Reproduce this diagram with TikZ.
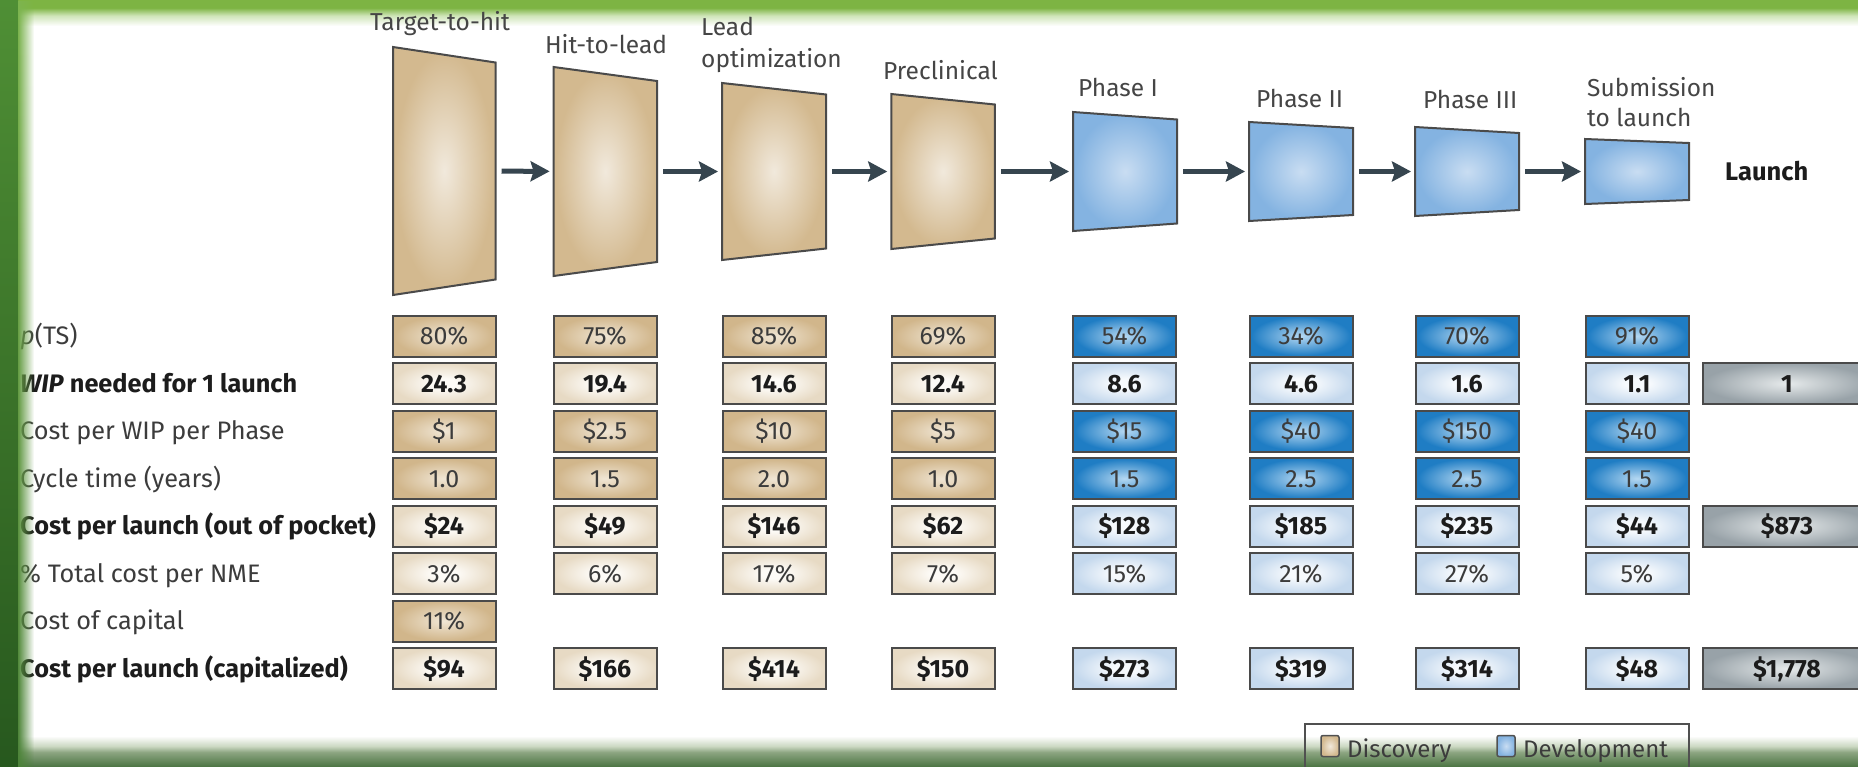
\documentclass[tikz,border=0pt]{standalone}
\usepackage{fontspec}
\setmainfont{Fira Sans}
\usetikzlibrary{arrows.meta,fadings}

\definecolor{bordc}{HTML}{4A4A4A}
\definecolor{arrc}{HTML}{36454F}
\definecolor{txtc}{HTML}{3C3C3C}
\definecolor{txtb}{HTML}{1C1C1C}
\definecolor{labc}{HTML}{454545}
\definecolor{legc}{HTML}{505050}

\definecolor{tTanA}{HTML}{F1E9DC}\definecolor{tTanB}{HTML}{D3B98F}
\definecolor{tBluA}{HTML}{C9DDF2}\definecolor{tBluB}{HTML}{84B3E1}
\definecolor{bTanDA}{HTML}{F0E6D5}\definecolor{bTanDB}{HTML}{D1B68B}
\definecolor{bTanLA}{HTML}{FDFBF7}\definecolor{bTanLB}{HTML}{E7DAC4}
\definecolor{bBluDA}{HTML}{B5D8F2}\definecolor{bBluDB}{HTML}{1F7DC4}
\definecolor{bBluLA}{HTML}{F7FAFD}\definecolor{bBluLB}{HTML}{C4D8ED}
\definecolor{bGryA}{HTML}{E6EAEB}\definecolor{bGryB}{HTML}{98A2A8}

\definecolor{lgT}{HTML}{4F8F35}\definecolor{lgB}{HTML}{27581E}
\definecolor{lfT}{HTML}{7DB54F}\definecolor{lfB}{HTML}{4C8339}
\definecolor{tg1}{HTML}{7DB443}\definecolor{tg2}{HTML}{CFE5B8}
\definecolor{bg1}{HTML}{CBD8C2}\definecolor{bg2}{HTML}{8CA581}\definecolor{bg3}{HTML}{4F7746}

\pgfdeclareradialshading{trapTan}{\pgfpointorigin}{color(0bp)=(tTanA); color(24bp)=(tTanB); color(50bp)=(tTanB)}
\pgfdeclareradialshading{trapBlue}{\pgfpointorigin}{color(0bp)=(tBluA); color(24bp)=(tBluB); color(50bp)=(tBluB)}
\pgfdeclareradialshading{boxTanD}{\pgfpointorigin}{color(0bp)=(bTanDA); color(24bp)=(bTanDB); color(50bp)=(bTanDB)}
\pgfdeclareradialshading{boxTanL}{\pgfpointorigin}{color(0bp)=(bTanLA); color(6bp)=(bTanLA); color(25bp)=(bTanLB); color(50bp)=(bTanLB)}
\pgfdeclareradialshading{boxBlueD}{\pgfpointorigin}{color(0bp)=(bBluDA); color(24bp)=(bBluDB); color(50bp)=(bBluDB)}
\pgfdeclareradialshading{boxBlueL}{\pgfpointorigin}{color(0bp)=(bBluLA); color(6bp)=(bBluLA); color(25bp)=(bBluLB); color(50bp)=(bBluLB)}
\pgfdeclareradialshading{boxGray}{\pgfpointorigin}{color(0bp)=(bGryA); color(25bp)=(bGryB); color(50bp)=(bGryB)}

\pgfdeclareverticalshading{topband}{100bp}{color(0bp)=(white); color(25bp)=(white); color(45bp)=(tg2); color(60bp)=(tg1); color(100bp)=(tg1)}
\pgfdeclareverticalshading{botband}{100bp}{color(0bp)=(bg3); color(25bp)=(bg3); color(48bp)=(bg2); color(58bp)=(bg1); color(75bp)=(white); color(100bp)=(white)}

\tikzfading[name=fadeR, left color=transparent!0, right color=transparent!100]

\newcommand\cellfont{\fontsize{25}{27}\selectfont}
\newcommand\labfont{\fontsize{25.3}{27}\selectfont}
\newcommand\stagefont{\fontsize{24.5}{26}\selectfont}

\tikzset{
  stagebox/.style={inner sep=0pt, outer sep=0pt, minimum width=104pt},
  traptan/.style={draw=bordc, line width=2pt, shading=trapTan},
  trapblue/.style={draw=bordc, line width=2pt, shading=trapBlue},
  arr/.style={draw=arrc, line width=5pt, -{Stealth[length=19pt,width=20pt,inset=3pt]}, shorten <=6pt, shorten >=4pt},
  cell/.style={draw=bordc, line width=2pt, minimum width=103pt, minimum height=41pt, inner sep=0pt, text height=17pt, text depth=0pt, font=\cellfont},
  rg/.style={text=txtc},
  bd/.style={text=txtb, font=\cellfont\bfseries},
  dtan/.style={cell, shading=boxTanD, rg},
  ltan/.style={cell, shading=boxTanL},
  dblue/.style={cell, shading=boxBlueD, rg},
  lblue/.style={cell, shading=boxBlueL},
  gcell/.style={cell, shading=boxGray, minimum width=168pt},
  stagelab/.style={inner sep=0pt, text=labc, font=\stagefont},
  rowlab/.style={inner sep=0pt, anchor=base west, text=txtc, font=\labfont},
  rowlabb/.style={inner sep=0pt, anchor=base west, text=txtb, font=\labfont\bfseries},
  legsq/.style={draw=legc, line width=1.5pt, minimum width=18pt, minimum height=21pt, inner sep=0pt, rounded corners=2pt},
  legtxt/.style={inner sep=0pt, anchor=base west, text=txtc, font=\fontsize{24}{26}\selectfont}
}

\begin{document}
\begin{tikzpicture}[x=1pt,y=-1pt]
\useasboundingbox (0,0) rectangle (1858,766);
\fill[white] (0,0) rectangle (1858,766);
\shade[shading=topband] (0,0) rectangle (1858,26);
\shade[shading=botband] (0,736) rectangle (1858,766);

% stages
\node[stagebox, minimum width=102.5pt, minimum height=248pt] (s1) at (444.25,171) {};
\node[stagebox, minimum width=103.4pt, minimum height=209pt] (s2) at (605.3,171.5) {};
\node[stagebox, minimum height=177pt] (s3) at (774,171.5) {};
\node[stagebox, minimum width=103.5pt, minimum height=155pt] (s4) at (943,171.5) {};
\node[stagebox, minimum height=119pt] (s5) at (1125,171.5) {};
\node[stagebox, minimum height=99pt] (s6) at (1301,171.5) {};
\node[stagebox, minimum height=89pt] (s7) at (1467,171.5) {};
\node[stagebox, minimum height=65pt] (s8) at (1637,171.5) {};

\path[traptan] (s1.north west) -- ([yshift=-15.5pt]s1.north east) -- ([yshift=15.5pt]s1.south east) -- (s1.south west) -- cycle;
\path[traptan] (s2.north west) -- ([yshift=-14pt]s2.north east) -- ([yshift=14pt]s2.south east) -- (s2.south west) -- cycle;
\path[traptan] (s3.north west) -- ([yshift=-11.5pt]s3.north east) -- ([yshift=11.5pt]s3.south east) -- (s3.south west) -- cycle;
\path[traptan] (s4.north west) -- ([yshift=-10.5pt]s4.north east) -- ([yshift=10.5pt]s4.south east) -- (s4.south west) -- cycle;
\path[trapblue] (s5.north west) -- ([yshift=-7.5pt]s5.north east) -- ([yshift=7.5pt]s5.south east) -- (s5.south west) -- cycle;
\path[trapblue] (s6.north west) -- ([yshift=-6pt]s6.north east) -- ([yshift=6pt]s6.south east) -- (s6.south west) -- cycle;
\path[trapblue] (s7.north west) -- ([yshift=-6pt]s7.north east) -- ([yshift=6pt]s7.south east) -- (s7.south west) -- cycle;
\path[trapblue] (s8.north west) -- ([yshift=-4pt]s8.north east) -- ([yshift=4pt]s8.south east) -- (s8.south west) -- cycle;

\foreach \a/\b in {s1/s2,s2/s3,s3/s4,s4/s5,s5/s6,s6/s7,s7/s8}
  \draw[arr] (\a) -- (\b);

% stage labels
\node[stagelab, anchor=base] (t1) at (440,30) {Target-to-hit};
\node[stagelab, anchor=base] (t2) at (606,53) {Hit-to-lead};
\node[stagelab, anchor=base west] (t3a) at (701,35) {Lead};
\node[stagelab, anchor=base west] (t3b) at (701,67) {optimization};
\node[stagelab, anchor=base west] (t4) at (883,79) {Preclinical};
\node[stagelab, anchor=base west] (t5) at (1078,96) {Phase I};
\node[stagelab, anchor=base west] (t6) at (1256,107) {Phase II};
\node[stagelab, anchor=base west] (t7) at (1423,108) {Phase III};
\node[stagelab, anchor=base west] (t8a) at (1587,96) {Submission};
\node[stagelab, anchor=base west] (t8b) at (1587,126) {to launch};
\node[stagelab, anchor=base west, text=txtb, font=\fontsize{25.5}{27}\selectfont\bfseries] (tl) at (1725,180) {Launch};

% row labels
\node[rowlab] (lab0) at (20,344.5) {\textit{p}(TS)};
\node[rowlabb] (lab1) at (20,392) {\textit{WIP} needed for 1 launch};
\node[rowlab] (lab2) at (20,439.5) {Cost per WIP per Phase};
\node[rowlab] (lab3) at (20,487) {Cycle time (years)};
\node[rowlabb] (lab4) at (20,534.5) {Cost per launch (out of pocket)};
\node[rowlab] (lab5) at (20,582) {\% Total cost per NME};
\node[rowlab] (lab6) at (20,629.5) {Cost of capital};
\node[rowlabb] (lab7) at (20,677) {Cost per launch (capitalized)};

% table cells
\foreach \x/\v/\st [count=\i] in {444/80\%/dtan,605/75\%/dtan,774/85\%/dtan,943/69\%/dtan,1124.5/54\%/dblue,1301/34\%/dblue,1467/70\%/dblue,1637/91\%/dblue}
  \node[\st] (a\i) at (\x,336) {\v};
\foreach \x/\v/\st [count=\i] in {444/24.3/ltan,605/19.4/ltan,774/14.6/ltan,943/12.4/ltan,1124.5/8.6/lblue,1301/4.6/lblue,1467/1.6/lblue,1637/1.1/lblue}
  \node[\st, bd] (b\i) at (\x,383.5) {\v};
\node[gcell, bd] (b9) at (1787,383.5) {1};
\foreach \x/\v/\st [count=\i] in {444/\$1/dtan,605/\$2.5/dtan,774/\$10/dtan,943/\$5/dtan,1124.5/\$15/dblue,1301/\$40/dblue,1467/\$150/dblue,1637/\$40/dblue}
  \node[\st] (c\i) at (\x,431) {\v};
\foreach \x/\v/\st [count=\i] in {444/1.0/dtan,605/1.5/dtan,774/2.0/dtan,943/1.0/dtan,1124.5/1.5/dblue,1301/2.5/dblue,1467/2.5/dblue,1637/1.5/dblue}
  \node[\st] (d\i) at (\x,478.5) {\v};
\foreach \x/\v/\st [count=\i] in {444/\$24/ltan,605/\$49/ltan,774/\$146/ltan,943/\$62/ltan,1124.5/\$128/lblue,1301/\$185/lblue,1467/\$235/lblue,1637/\$44/lblue}
  \node[\st, bd] (e\i) at (\x,526) {\v};
\node[gcell, bd] (e9) at (1787,526) {\$873};
\foreach \x/\v/\st [count=\i] in {444/3\%/ltan,605/6\%/ltan,774/17\%/ltan,943/7\%/ltan,1124.5/15\%/lblue,1301/21\%/lblue,1467/27\%/lblue,1637/5\%/lblue}
  \node[\st, rg] (f\i) at (\x,573.5) {\v};
\node[dtan] (g1) at (444,621) {11\%};
\foreach \x/\v/\st [count=\i] in {444/\$94/ltan,605/\$166/ltan,774/\$414/ltan,943/\$150/ltan,1124.5/\$273/lblue,1301/\$319/lblue,1467/\$314/lblue,1637/\$48/lblue}
  \node[\st, bd] (h\i) at (\x,668.5) {\v};
\node[gcell, bd] (h9) at (1787,668.5) {\$1,778};

% legend
\node[draw=legc, line width=1.5pt, minimum width=384pt, minimum height=62pt, anchor=north west, inner sep=0pt] (leg) at (1304,723) {};
\node[legsq, shading=trapTan] (lsq1) at (1330,746) {};
\node[legtxt] (lt1) at (1347,757) {Discovery};
\node[legsq, shading=trapBlue] (lsq2) at (1506,746) {};
\node[legtxt] (lt2) at (1523,757) {Development};

% left green band (over the text edge)
\shade[top color=lgT, bottom color=lgB] (0,0) rectangle (18,766);
\shade[top color=lfT, bottom color=lfB, path fading=fadeR] (18,0) rectangle (34,766);
\end{tikzpicture}
\end{document}
